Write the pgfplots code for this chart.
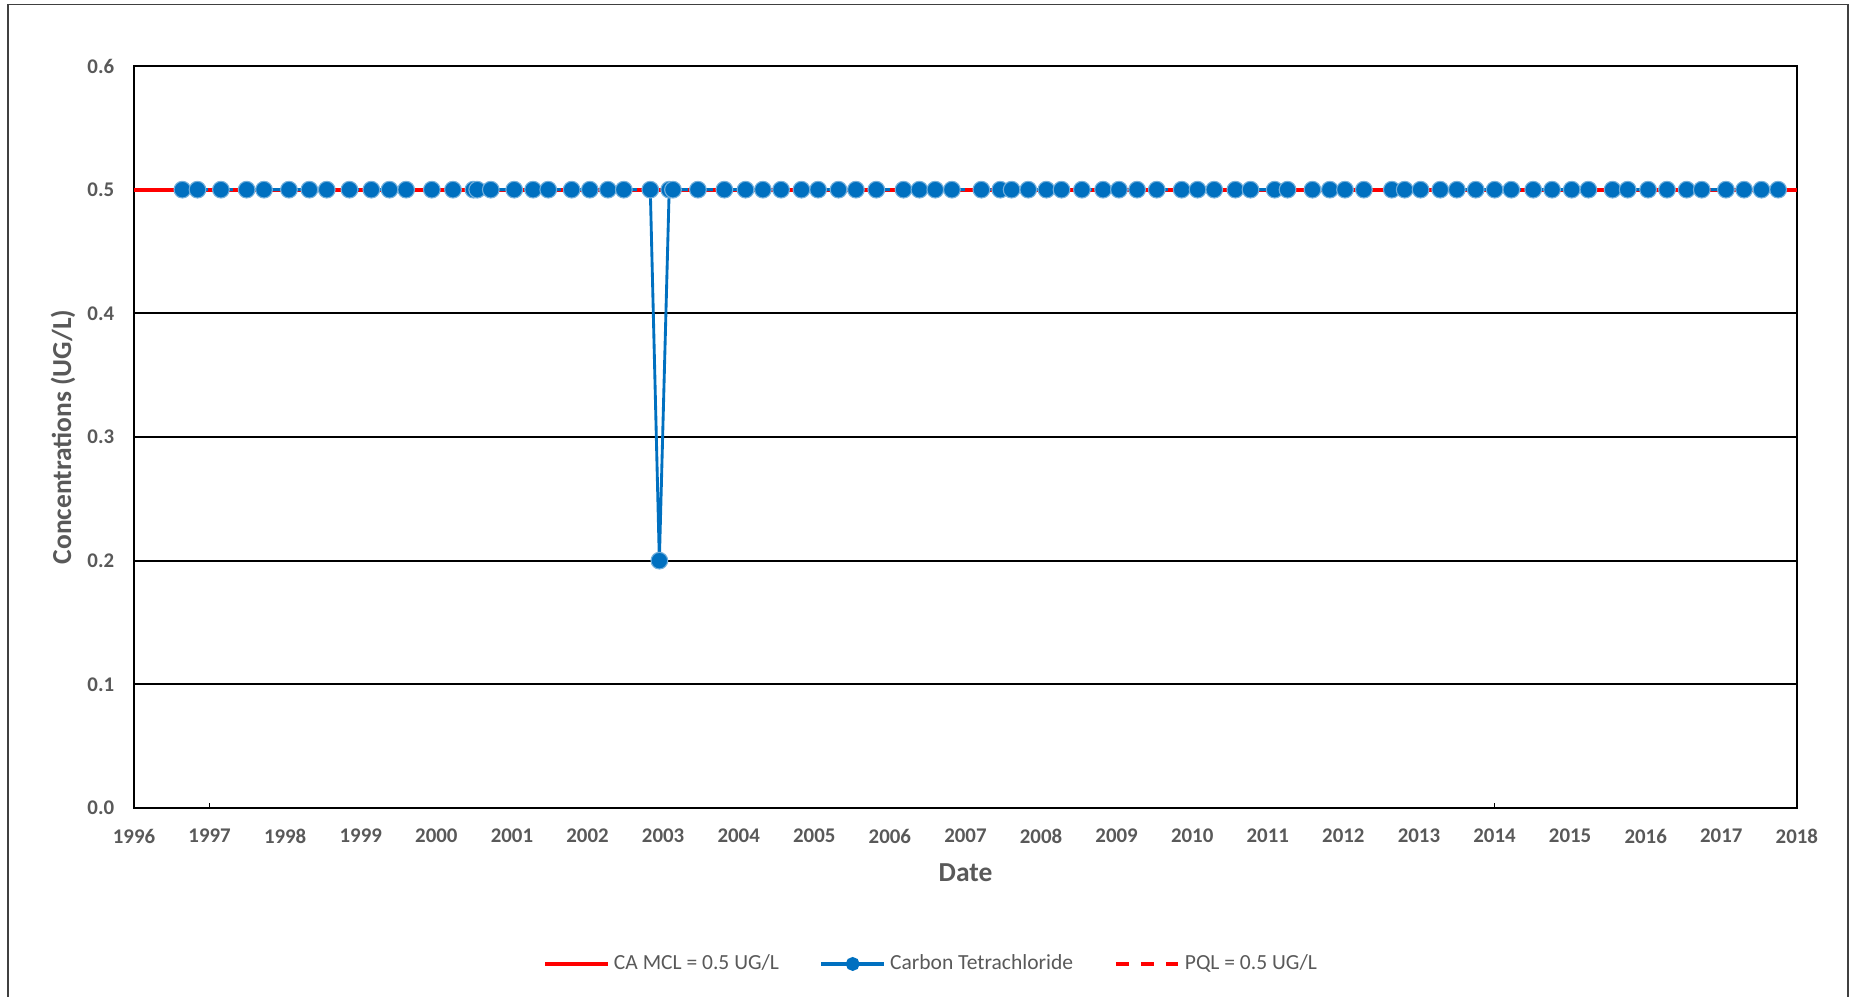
\documentclass[border=0pt]{standalone}
\usepackage{pgfplots}
\pgfplotsset{compat=1.18}
\usepackage{fontspec}
\setmainfont{Carlito}

\definecolor{tgray}{HTML}{595959}
\definecolor{cblue}{HTML}{0070C0}
\definecolor{cred}{HTML}{FF0000}

\begin{document}
\begin{tikzpicture}
\useasboundingbox (0,0) rectangle (29.68cm,15.952cm);
\draw[black!75, line width=0.6pt] (0.128cm,0) -- (0.128cm,15.88cm) -- (29.568cm,15.88cm) -- (29.568cm,0);
\begin{axis}[
    at={(2.144cm,3.024cm)}, anchor=south west,
    scale only axis,
    width=26.608cm, height=11.872cm,
    xmin=1996, xmax=2018,
    ymin=0, ymax=0.6,
    xtick={1996,...,2018},
    ytick={0,0.1,...,0.6},
    major tick length=0pt,
    xtick pos=bottom, ytick pos=left,
    extra x ticks={1997,2014},
    extra x tick labels={},
    extra x tick style={major tick length=2.5pt, tick align=inside,
        tick style={black, line width=0.6pt}, grid=none},
    ymajorgrids,
    grid style={black, line width=0.9pt},
    axis line style={black, line width=0.9pt},
    /pgf/number format/assume math mode=true,
    xticklabel style={/pgf/number format/1000 sep={}, yshift=-6pt},
    yticklabel style={/pgf/number format/fixed, /pgf/number format/fixed zerofill,
        /pgf/number format/precision=1, xshift=-5.5pt},
    ticklabel style={font=\fontsize{9.5}{11}\selectfont\bfseries, text=tgray},
    xlabel={Date},
    ylabel={Concentrations (UG/L)},
    label style={font=\fontsize{12.5}{15}\selectfont\bfseries, text=tgray},
    xlabel style={at={(axis description cs:0.5,-0.0876)}, anchor=center},
    ylabel style={at={(axis description cs:-0.0427,0.5)}, anchor=center},
    legend columns=3,
    legend style={at={(0.4799,-0.2102)}, anchor=center, draw=none, fill=none,
        font=\fontsize{9.8}{11}\selectfont, text=tgray,
        /tikz/every even column/.append style={column sep=0.58cm}},
    legend image code/.code={\draw[#1] (0cm,0cm) -- (1.0cm,0cm);},
]
\addplot[cred, line width=1.9pt] coordinates {(1996,0.5) (2018,0.5)};
\addlegendentry{CA MCL = 0.5 UG/L}

\addplot[cblue, line width=1.3pt, mark=*, mark size=3.8pt,
    mark options={fill=cblue, draw=cblue!55!white, line width=0.5pt},
    legend image code/.code={
        \draw[cblue, line width=1.6pt] (0cm,0cm) -- (1.0cm,0cm);
        \fill[cblue] (0.5cm,0cm) circle (2.5pt);}]
coordinates {
(1996.64,0.5) (1996.84,0.5) (1997.15,0.5) (1997.49,0.5) (1997.72,0.5)
(1998.05,0.5) (1998.32,0.5) (1998.55,0.5) (1998.85,0.5) (1999.14,0.5)
(1999.38,0.5) (1999.60,0.5) (1999.94,0.5) (2000.22,0.5) (2000.49,0.5)
(2000.54,0.5) (2000.72,0.5) (2001.03,0.5) (2001.28,0.5) (2001.48,0.5)
(2001.79,0.5) (2002.03,0.5) (2002.27,0.5) (2002.48,0.5) (2002.83,0.5)
(2002.95,0.2) (2003.08,0.5) (2003.13,0.5) (2003.46,0.5) (2003.81,0.5)
(2004.09,0.5) (2004.32,0.5) (2004.56,0.5) (2004.83,0.5) (2005.05,0.5)
(2005.32,0.5) (2005.55,0.5) (2005.82,0.5) (2006.18,0.5) (2006.39,0.5)
(2006.60,0.5) (2006.82,0.5) (2007.21,0.5) (2007.46,0.5) (2007.61,0.5)
(2007.83,0.5) (2008.07,0.5) (2008.27,0.5) (2008.54,0.5) (2008.82,0.5)
(2009.03,0.5) (2009.27,0.5) (2009.53,0.5) (2009.86,0.5) (2010.07,0.5)
(2010.29,0.5) (2010.57,0.5) (2010.77,0.5) (2011.09,0.5) (2011.26,0.5)
(2011.59,0.5) (2011.82,0.5) (2012.02,0.5) (2012.27,0.5) (2012.64,0.5)
(2012.81,0.5) (2013.02,0.5) (2013.28,0.5) (2013.50,0.5) (2013.75,0.5)
(2014.00,0.5) (2014.22,0.5) (2014.51,0.5) (2014.76,0.5) (2015.02,0.5)
(2015.24,0.5) (2015.56,0.5) (2015.76,0.5) (2016.03,0.5) (2016.28,0.5)
(2016.54,0.5) (2016.74,0.5) (2017.06,0.5) (2017.30,0.5) (2017.53,0.5)
(2017.75,0.5)
};
\addlegendentry{Carbon Tetrachloride}

\addplot[cred, line width=1.9pt, dash pattern=on 6pt off 5.5pt]
    coordinates {(1996.64,0.5) (2017.75,0.5)};
\addlegendentry{PQL = 0.5 UG/L}
\end{axis}
\end{tikzpicture}
\end{document}
